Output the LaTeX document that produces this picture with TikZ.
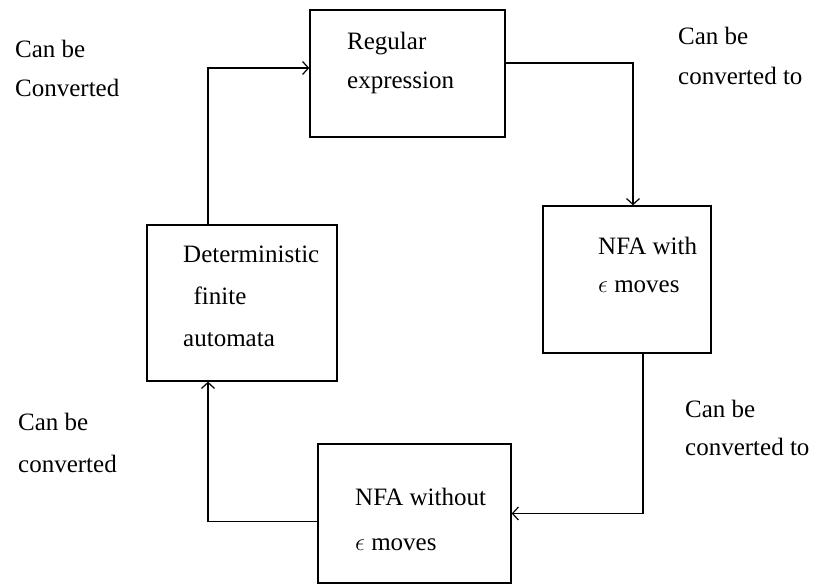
\documentclass[tikz,border=0pt]{standalone}
\usepackage{fontspec}
\setmainfont{Liberation Serif}
\usetikzlibrary{arrows,arrows.meta,calc,positioning}

\tikzset{
	box/.style={draw,rectangle,inner sep=0pt,line width=1.3pt},
	txt/.style={anchor=base west,align=left,inner sep=0pt,font=\fontsize{25}{40}\selectfont},
	conv/.style={->,line width=1.2pt}
}

\begin{document}
\begin{tikzpicture}[x=1pt,y=-1pt,>={Straight Barb[length=6pt,width=13pt]}]
		\useasboundingbox (0,0) rectangle (820,585);
		% the four boxes
		\node[box,minimum width=195pt,minimum height=127pt] (re) at (407.5,73.5) {};
		\node[box,minimum width=168pt,minimum height=147pt] (nfae) at (627,279.5) {};
		\node[box,minimum width=193pt,minimum height=139pt] (nfawo) at (414.5,513.5) {};
		\node[box,minimum width=190pt,minimum height=156pt] (dfa) at (242,303) {};
		% box texts (anchored at the last line)
		\node[txt,font=\fontsize{25}{39}\selectfont] (retxt) at (347,89) {Regular\\expression};
		\node[txt,font=\fontsize{25}{38}\selectfont] (nfaetxt) at (598,293) {NFA with\\$\epsilon$ moves};
		\node[txt,font=\fontsize{25}{45}\selectfont] (nfawotxt) at (355,550) {NFA without\\$\epsilon$ moves};
		\node[txt,font=\fontsize{25}{42}\selectfont] (dfatxt) at (183,347) {Deterministic\\\ \,finite\\automata};
		% conversions
		\draw[conv] ([yshift=10.5]re.east) -| ([xshift=6]nfae.north);
		\draw[conv] ([xshift=16]nfae.south) |- (nfawo.east);
		\draw[conv] ([yshift=-8]nfawo.west) -| ([xshift=-34]dfa.south);
		\draw[conv] ([xshift=-34]dfa.north) |- ([yshift=5.5]re.west);
		% labels
		\node[txt,font=\fontsize{25}{39}\selectfont] (lab1) at (15,97) {Can be\\Converted};
		\node[txt] (lab2) at (678,85) {Can be\\converted to};
		\node[txt,font=\fontsize{25}{38}\selectfont] (lab3) at (685,456) {Can be\\converted to};
		\node[txt,font=\fontsize{25}{42}\selectfont] (lab4) at (18,472) {Can be\\converted};
	\end{tikzpicture}
\end{document}
